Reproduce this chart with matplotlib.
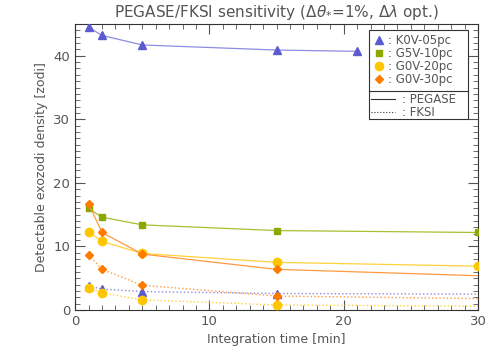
import matplotlib
matplotlib.use("Agg")
import matplotlib.pyplot as plt
from matplotlib.lines import Line2D
from matplotlib.patches import Rectangle
from matplotlib.ticker import MultipleLocator

# integration time [min]
t_k0v = [1, 2, 5, 15, 21]
t_all = [1, 2, 5, 15, 30]

# PEGASE (solid)
peg_k0v = [44.5, 43.2, 41.7, 40.9, 40.7]
peg_g5v = [16.0, 14.6, 13.4, 12.5, 12.2]
peg_g0v20 = [12.3, 10.8, 8.9, 7.5, 6.9]
peg_g0v30 = [16.7, 12.2, 8.8, 6.4, 5.4]

# FKSI (dotted)
fk_k0v = [3.8, 3.3, 2.9, 2.6, 2.5]
fk_g0v20 = [3.5, 2.7, 1.6, 0.8, 0.6]
fk_g0v30 = [8.7, 6.4, 3.9, 2.2, 1.8]

labels = ['K0V-05pc', 'G5V-10pc', 'G0V-20pc', 'G0V-30pc']
colors = ['#5b5bcf', '#8aa800', '#ffc600', '#ff7b00']
lcolors = ['#8c8ce0', '#a8c030', '#ffd23c', '#ff9a40']
markers = ['^', 's', 'o', 'D']
msizes = [5.5, 4, 6, 4.5]

grey = '#555555'
plt.rcParams['font.family'] = 'DejaVu Sans'
plt.rcParams['text.color'] = grey
plt.rcParams['axes.labelcolor'] = grey
plt.rcParams['xtick.color'] = grey
plt.rcParams['ytick.color'] = grey

fig = plt.figure(figsize=(5.01, 3.58), dpi=100)
ax = fig.add_axes([0.15, 0.134, 0.804, 0.799])

peg = [(t_k0v, peg_k0v), (t_all, peg_g5v), (t_all, peg_g0v20), (t_all, peg_g0v30)]
fk = [(t_all, fk_k0v), None, (t_all, fk_g0v20), (t_all, fk_g0v30)]

for i in range(4):
    x, y = peg[i]
    me = [0, 1, 2, 3] if i == 3 else None
    ax.plot(x, y, '-', color=lcolors[i], lw=0.9, marker=markers[i],
            ms=msizes[i], mfc=colors[i], mec=colors[i], markevery=me, zorder=3)
    if fk[i] is not None:
        x, y = fk[i]
        ax.plot(x, y, ':', color=lcolors[i], lw=1.0, marker=markers[i],
                ms=msizes[i], mfc=colors[i], mec=colors[i], markevery=[0, 1, 2, 3], zorder=3)

ax.set_xlim(0, 30)
ax.set_ylim(0, 45)
ax.xaxis.set_major_locator(MultipleLocator(10))
ax.xaxis.set_minor_locator(MultipleLocator(1))
ax.yaxis.set_major_locator(MultipleLocator(10))
ax.yaxis.set_minor_locator(MultipleLocator(1))
ax.tick_params(which='both', direction='in', top=True, right=True, labelsize=9.5)
ax.tick_params(which='major', length=7, width=0.8)
ax.tick_params(which='minor', length=3.5, width=0.6)
for s in ax.spines.values():
    s.set_color('#333333')
    s.set_linewidth(0.8)

ax.set_xlabel('Integration time [min]', fontsize=9)
ax.set_ylabel('Detectable exozodi density [zodi]', fontsize=9)
ax.set_title(r'PEGASE/FKSI sensitivity ($\Delta\theta_{*}$=1%, $\Delta\lambda$ opt.)',
             fontsize=11, color=grey, pad=5)

# legend box with separator (drawn by hand like the IDL original)
bx0, bx1, by0, by1, bsep = 0.7295, 0.975, 0.668, 0.979, 0.767
ax.add_patch(Rectangle((bx0, by0), bx1 - bx0, by1 - by0, transform=ax.transAxes,
                       fill=True, fc='white', ec='#333333', lw=0.8, zorder=5))
ax.plot([bx0, bx1], [bsep, bsep], transform=ax.transAxes, color='#333333', lw=0.8, zorder=6)

h1 = [Line2D([], [], ls='', marker=markers[i], ms=msizes[i], mfc=colors[i], mec=colors[i])
      for i in range(4)]
leg1 = ax.legend(h1, [': ' + l for l in labels], loc='upper left',
                 bbox_to_anchor=(bx0, by1), fontsize=8.5, frameon=False,
                 handlelength=1.0, handletextpad=0.3,
                 borderpad=0.35, labelspacing=0.0, borderaxespad=0)
leg1.set_zorder(7)
ax.add_artist(leg1)

h2 = [Line2D([], [], ls='-', color='#333333', lw=0.8),
      Line2D([], [], ls=':', color='#333333', lw=0.8)]
leg2 = ax.legend(h2, [': PEGASE', ': FKSI'], loc='upper left',
                 bbox_to_anchor=(bx0, bsep), fontsize=8.5, frameon=False,
                 handlelength=2.0, handletextpad=0.6,
                 borderpad=0.2, labelspacing=0.0, borderaxespad=0)
leg2.set_zorder(7)

fig.savefig('out.png', dpi=100)
